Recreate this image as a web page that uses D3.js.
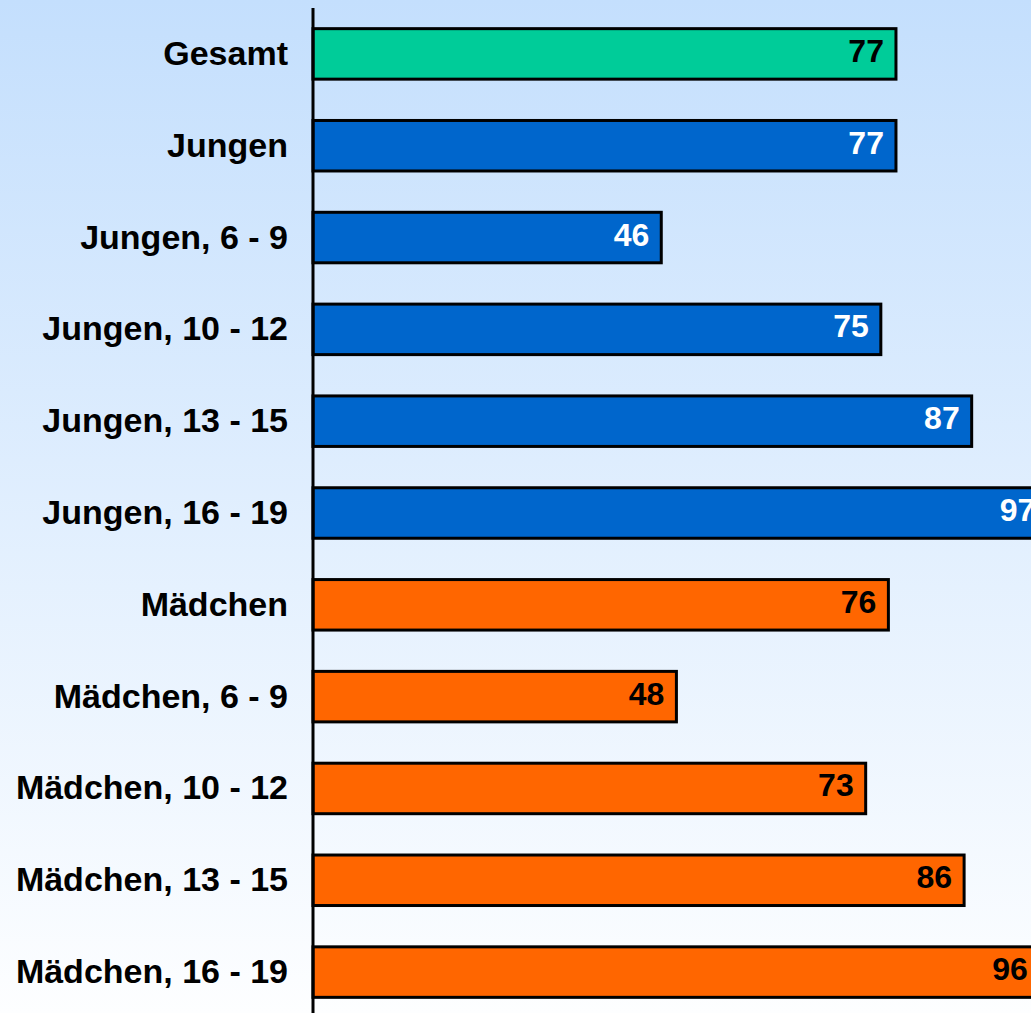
<!DOCTYPE html>
<html>
<head>
<meta charset="utf-8">
<script src="https://cdn.jsdelivr.net/npm/d3@7"></script>
<style>
  html, body { margin: 0; padding: 0; overflow: hidden; }
  svg { display: block; }
</style>
</head>
<body>
<script>
const categories = [
  'Gesamt', 'Jungen', 'Jungen, 6 - 9', 'Jungen, 10 - 12', 'Jungen, 13 - 15', 'Jungen, 16 - 19',
  'Mädchen', 'Mädchen, 6 - 9', 'Mädchen, 10 - 12', 'Mädchen, 13 - 15', 'Mädchen, 16 - 19',
];
const values = [77, 77, 46, 75, 87, 97, 76, 48, 73, 86, 96];
const groups = ['total', 'boys', 'boys', 'boys', 'boys', 'boys', 'girls', 'girls', 'girls', 'girls', 'girls'];

const w = 1031;
const h = 1013;
const axisX = 313;

const fillColor = { total: '#00CC99', boys: '#0066CC', girls: '#FF6600' };
const textColor = { total: '#000', boys: '#fff', girls: '#000' };

const svg = d3.select('body').append('svg').attr('width', w).attr('height', h);

// background gradient
const grad = svg.append('defs').append('linearGradient')
  .attr('id', 'bg').attr('x1', 0).attr('y1', 0).attr('x2', 0).attr('y2', 1);
grad.append('stop').attr('offset', '0%').attr('stop-color', '#C4DFFD');
grad.append('stop').attr('offset', '100%').attr('stop-color', '#FDFEFF');
svg.append('rect').attr('width', w).attr('height', h).attr('fill', 'url(#bg)');

const x = d3.scaleLinear().domain([0, 100]).range([axisX, axisX + 757.1]);
const y = d3.scaleBand().domain(categories).range([8, 1018]).paddingInner(0.45).paddingOuter(0.225);

const rows = categories.map((c, i) => ({ name: c, value: values[i], group: groups[i] }));

svg.selectAll('rect.bar')
  .data(rows)
  .enter()
  .append('rect')
  .attr('class', 'bar')
  .attr('x', x(0))
  .attr('y', (d) => y(d.name))
  .attr('width', (d) => x(d.value) - x(0))
  .attr('height', y.bandwidth())
  .attr('fill', (d) => fillColor[d.group])
  .attr('stroke', '#000')
  .attr('stroke-width', 3);

svg.selectAll('text.value')
  .data(rows)
  .enter()
  .append('text')
  .attr('class', 'value')
  .attr('x', (d) => x(d.value) - 12)
  .attr('y', (d) => y(d.name) + y.bandwidth() / 2 + 8)
  .attr('text-anchor', 'end')
  .attr('font-family', 'Liberation Sans, Arial, sans-serif')
  .attr('font-weight', 'bold')
  .attr('font-size', '32px')
  .attr('fill', (d) => textColor[d.group])
  .text((d) => d.value);

svg.selectAll('text.label')
  .data(rows)
  .enter()
  .append('text')
  .attr('class', 'label')
  .attr('x', 288)
  .attr('y', (d) => y(d.name) + y.bandwidth() / 2 + 11)
  .attr('text-anchor', 'end')
  .attr('font-family', 'Liberation Sans, Arial, sans-serif')
  .attr('font-weight', 'bold')
  .attr('font-size', '34px')
  .attr('fill', '#000')
  .text((d) => d.name);

// vertical axis line
svg.append('line')
  .attr('x1', axisX).attr('x2', axisX)
  .attr('y1', 8).attr('y2', h)
  .attr('stroke', '#000')
  .attr('stroke-width', 3);
</script>
</body>
</html>
